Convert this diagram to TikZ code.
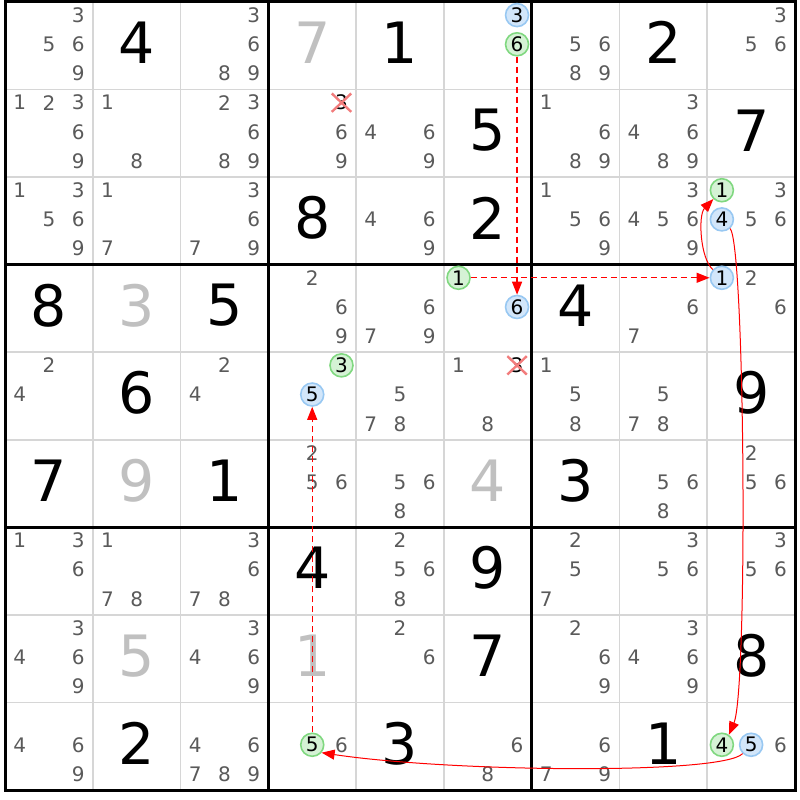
\documentclass[tikz,border=0pt]{standalone}
\usepackage{fontspec}
\setmainfont{DejaVu Sans}
\usetikzlibrary{arrows.meta,shapes.misc,calc}
\definecolor{candgray}{HTML}{5A5A5A}
\definecolor{solvedgray}{HTML}{C0C0C0}
\definecolor{thingrid}{HTML}{D6D6D6}
\definecolor{hgfill}{HTML}{D5F2D5}
\definecolor{hgdraw}{HTML}{80D880}
\definecolor{hbfill}{HTML}{D2E6FA}
\definecolor{hbdraw}{HTML}{98C8F2}
\definecolor{xred}{HTML}{F27C7C}
\tikzset{
 cand/.style={text=candgray, font=\fontsize{20}{20}\selectfont, inner sep=0pt},
 hgreen/.style={cand, text=black, circle, fill=hgfill, draw=hgdraw, line width=1.6pt, minimum size=23pt},
 hblue/.style={hgreen, fill=hbfill, draw=hbdraw},
 crossed/.style={cand, text=black, cross out, draw=xred, line width=2.4pt, minimum width=17pt, minimum height=16pt},
 givendigit/.style={font=\fontsize{57}{57}\selectfont, inner sep=0pt, text=black},
 solveddigit/.style={givendigit, text=solvedgray},
 thingridline/.style={draw=thingrid, line width=1.6pt},
 thickgridline/.style={draw=black, line width=3pt},
 dashlink/.style={draw=red, line width=1.3pt, dash pattern=on 6pt off 4pt, -{Triangle[length=13pt,width=10pt]}},
 solidlink/.style={draw=red, line width=1pt, -{Triangle[length=13pt,width=10pt]}},
}
\newcommand\cpos[3]{%
 \pgfmathsetmacro\cx{5+(#2-1)*87.78+(mod(#3-1,3)+0.5)*29.26}%
 \pgfmathsetmacro\cy{2+(#1-1)*87.56+(floor((#3-1)/3)+0.5)*29.19-1.5}}
\newcommand\cand[3]{\cpos{#1}{#2}{#3}\node[cand] (n#1#2#3) at (\cx,\cy) {#3};}
\newcommand\cands[3]{\foreach \dd in {#3}{\cand{#1}{#2}{\dd}}}
\newcommand\hcand[4]{\cpos{#2}{#3}{#4}\node[#1] (n#2#3#4) at (\cx,\cy) {#4};}
\newcommand\givn[4][givendigit]{%
 \pgfmathsetmacro\cx{5+(#3-0.5)*87.78}%
 \pgfmathsetmacro\cy{2+(#2-0.5)*87.56-3}%
 \node[#1] (g#2#3) at (\cx,\cy) {#4};}
\begin{document}
\begin{tikzpicture}[x=1pt,y=-1pt]
\fill[white] (0,0) rectangle (800,800);
\useasboundingbox (0,0) rectangle (800,800);
% grid
\foreach \i in {1,2,4,5,7,8}{
 \draw[thingridline] ({5+\i*87.78},2) -- ({5+\i*87.78},790);
 \draw[thingridline] (5,{2+\i*87.56}) -- (795,{2+\i*87.56});
}
\foreach \i in {3,6}{
 \draw[thickgridline] ({5+\i*87.78},2) -- ({5+\i*87.78},790);
 \draw[thickgridline] (5,{2+\i*87.56}) -- (795,{2+\i*87.56});
}
\draw[thickgridline] (5,2) rectangle (795,790);
% givens
\givn{1}{2}{4}\givn{1}{5}{1}\givn{1}{8}{2}
\givn{2}{6}{5}\givn{2}{9}{7}
\givn{3}{4}{8}\givn{3}{6}{2}
\givn{4}{1}{8}\givn{4}{3}{5}\givn{4}{7}{4}
\givn{5}{2}{6}\givn{5}{9}{9}
\givn{6}{1}{7}\givn{6}{3}{1}\givn{6}{7}{3}
\givn{7}{4}{4}\givn{7}{6}{9}
\givn{8}{6}{7}\givn{8}{9}{8}
\givn{9}{2}{2}\givn{9}{5}{3}\givn{9}{8}{1}
% solved
\givn[solveddigit]{1}{4}{7}\givn[solveddigit]{4}{2}{3}\givn[solveddigit]{6}{2}{9}
\givn[solveddigit]{6}{6}{4}\givn[solveddigit]{8}{2}{5}\givn[solveddigit]{8}{4}{1}
% candidates
\cands{1}{1}{3,5,6,9}\cands{1}{3}{3,6,8,9}\cands{1}{7}{5,6,8,9}\cands{1}{9}{3,5,6}
\cands{2}{1}{1,2,3,6,9}\cands{2}{2}{1,8}\cands{2}{3}{2,3,6,8,9}\cands{2}{4}{6,9}
\cands{2}{5}{4,6,9}\cands{2}{7}{1,6,8,9}\cands{2}{8}{3,4,6,8,9}
\cands{3}{1}{1,3,5,6,9}\cands{3}{2}{1,7}\cands{3}{3}{3,6,7,9}\cands{3}{5}{4,6,9}
\cands{3}{7}{1,5,6,9}\cands{3}{8}{3,4,5,6,9}\cands{3}{9}{3,5,6}
\cands{4}{4}{2,6,9}\cands{4}{5}{6,7,9}\cands{4}{8}{6,7}\cands{4}{9}{2,6}
\cands{5}{1}{2,4}\cands{5}{3}{2,4}\cands{5}{5}{5,7,8}\cands{5}{6}{1,8}
\cands{5}{7}{1,5,8}\cands{5}{8}{5,7,8}
\cands{6}{4}{2,5,6}\cands{6}{5}{5,6,8}\cands{6}{8}{5,6,8}\cands{6}{9}{2,5,6}
\cands{7}{1}{1,3,6}\cands{7}{2}{1,7,8}\cands{7}{3}{3,6,7,8}\cands{7}{5}{2,5,6,8}
\cands{7}{7}{2,5,7}\cands{7}{8}{3,5,6}\cands{7}{9}{3,5,6}
\cands{8}{1}{3,4,6,9}\cands{8}{3}{3,4,6,9}\cands{8}{5}{2,6}\cands{8}{7}{2,6,9}
\cands{8}{8}{3,4,6,9}
\cands{9}{1}{4,6,9}\cands{9}{3}{4,6,7,8,9}\cands{9}{4}{6}\cands{9}{6}{6,8}
\cands{9}{7}{6,7,9}\cands{9}{9}{6}
% highlighted and eliminated candidates
\hcand{hblue}{1}{6}{3}\hcand{hgreen}{1}{6}{6}
\hcand{crossed}{2}{4}{3}
\hcand{hgreen}{3}{9}{1}\hcand{hblue}{3}{9}{4}
\hcand{hgreen}{4}{6}{1}\hcand{hblue}{4}{6}{6}
\hcand{hblue}{4}{9}{1}
\hcand{hgreen}{5}{4}{3}\hcand{hblue}{5}{4}{5}
\hcand{crossed}{5}{6}{3}
\hcand{hgreen}{9}{4}{5}
\hcand{hgreen}{9}{9}{4}\hcand{hblue}{9}{9}{5}
% links
\draw[dashlink] (n166) -- (n466);
\draw[dashlink] (n461) -- (n491);
\draw[solidlink] (n491) .. controls (700,258) and (698,215) .. (n391);
\draw[solidlink] (n394) .. controls (745,245) and (748,690) .. (n994.55);
\draw[solidlink] (n995) .. controls (722,775) and (450,772) .. (n945.-40);
\draw[dashlink] (n945) -- (n545);
\end{tikzpicture}
\end{document}
